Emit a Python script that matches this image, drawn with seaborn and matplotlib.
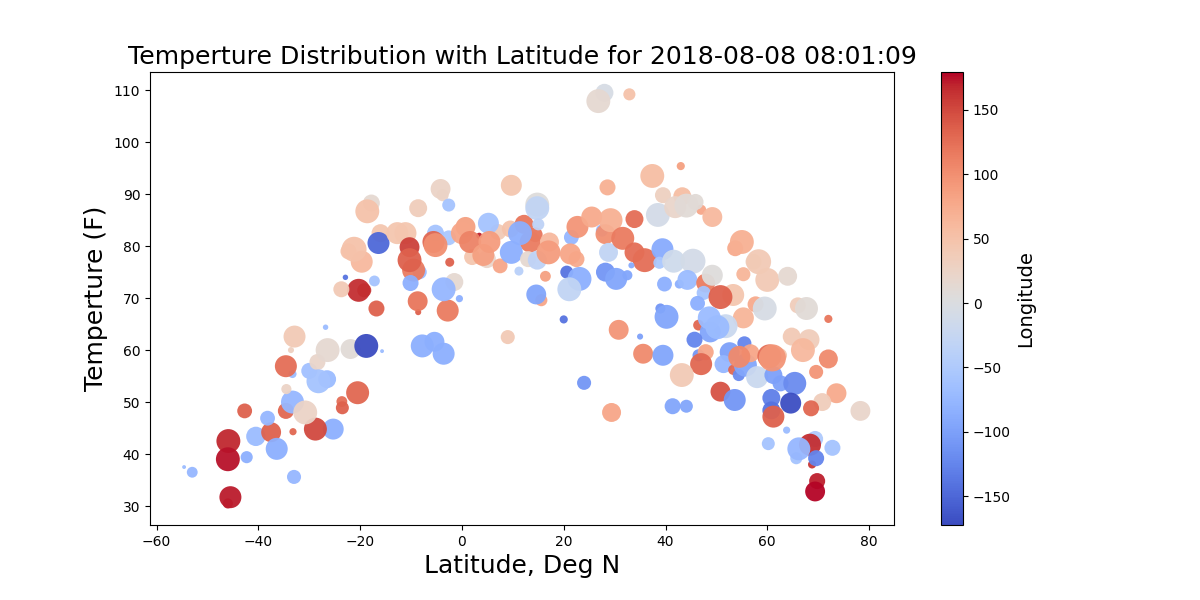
import matplotlib
matplotlib.use("Agg")
import matplotlib.pyplot as plt
import pandas as pd
import seaborn as sns

# values, in drawing order
lat = [-54.6, -53, -33, -46, -45.5, -45.9, -46, -42.3, -40.5, -37.5,
       -36.4, -42.7, -38.2, -33.2, -34.6, -33.3, -25.3, -28.8, -30.8, -34.5,
       -23.6, -23.5, -20.5, -30, -28.4, -26.5, -28.2, -33.3, -34.6, -32.9,
       -33.6, -26.8, -26.4, -21.9, -18.8, -15.7, -7.8, -5.4, -3.6, -19.2,
       -20.3, -23.7, -22.9, -17.2, -16.8, -19.7, -22.3, -21.2, -16, -16.4,
       -17.8, -18.6, -12.7, -11.1, -8.6, -3.8, -4.2, -2.6, -10.3, -8.3,
       -9.5, -10.3, -10.1, -2.4, -8.6, -8.7, -2.8, -1.5, -3.6, -0.5,
       -5.2, -2.6, -5.6, -5.2, 0.7, 0, 2, 3.4, 1.6, 4.9,
       4.2, 7.1, 5.2, 5.4, 7.5, 9.5, 9.7, 12.2, 14.4, 13.4,
       9.7, 11.4, 11.2, 13, 14.8, 14.8, 14.8, 15, 17.2, 17,
       16.4, 15.6, 14.6, 20.6, 21.5, 23.1, 21.1, 22.5, 21.3, 22.7,
       25.5, 28.6, 28, 26.8, 32.9, 27.5, 28.2, 29.2, 28.8, 33.9,
       31.6, 33.9, 35.9, 28.2, 32.5, 33.3, 30.3, 37.4, 43, 43.3,
       39.5, 47, 38.5, 41.9, 45.9, 44.1, 49.2, 39.4, 38.8, 41.6,
       45.4, 39.8, 42.7, 44.3, 47.9, 49.2, 39, 40.2, 47.5, 46.3,
       53.3, 50.8, 53.7, 55, 57.3, 58.3, 55.3, 60, 64, 57.7,
       55.3, 59.5, 66, 67.7, 72, 46.5, 51.8, 48.8, 48.6, 50.2,
       45.7, 64.8, 68.2, 67, 46.5, 47.9, 47, 52.6, 51.4, 53.3,
       55.5, 54.4, 55.7, 56.7, 54.5, 58, 61.2, 62.6, 65.4, 62.5,
       60.4, 61, 69.6, 72, 73.6, 70.8, 68.6, 78.3, 64.6, 60.8,
       60.8, 61.2, 50.8, 53.6, 63.8, 60.2, 69.4, 68.4, 72.8, 65.7,
       66.2, 68.8, 69.6, 69.8, 69.4, 9, 24, 29.4, 30.8, 35,
       35.6, 39.5, 43.2, 41.4, 44.1, 20]

temp = [37.5, 36.5, 35.6, 30.5, 31.7, 42.5, 39, 39.4, 43.4, 44.2,
        41, 48.3, 46.9, 44.3, 48.3, 50, 44.8, 44.8, 48, 52.5,
        50.1, 48.9, 51.8, 56, 57.7, 54.4, 54, 55.4, 56.9, 62.6,
        60, 64.4, 60, 60.2, 60.8, 59.8, 60.8, 61.6, 59.3, 71.5,
        71.5, 71.7, 74, 73.3, 68, 77, 79, 79.4, 82.5, 80.6,
        88.3, 86.7, 82.5, 82.5, 87.3, 89.8, 91, 87.9, 79.8, 75,
        75.4, 77.3, 72.9, 76.9, 67.3, 69.4, 67.6, 73.1, 71.7, 69.9,
        82.5, 81.6, 80.8, 80.2, 83.7, 82.5, 77.9, 82, 80.8, 77.5,
        78.3, 82.7, 84.4, 80.8, 76.2, 83.3, 91.7, 84.2, 82.2, 80.8,
        78.8, 82.5, 75.2, 77.5, 77.3, 88, 87.3, 84.2, 80.8, 78.8,
        74.2, 69.6, 70.7, 75, 81.7, 73.7, 71.7, 77.5, 78.5, 83.7,
        85.6, 91.3, 109.5, 107.9, 109.2, 83, 82.3, 85, 78.8, 85.2,
        81.5, 78.8, 77.3, 75, 74.4, 76.3, 73.7, 93.5, 95.4, 89.6,
        89.8, 87, 86, 87.5, 88.5, 87.8, 85.6, 79.4, 76.8, 77.1,
        77.1, 72.7, 72.7, 73.5, 72.9, 74.4, 68, 66.4, 71, 69,
        70.6, 70.2, 79.6, 80.8, 77, 77, 74.6, 73.5, 74.2, 68.8,
        66.2, 68, 68.6, 68, 66, 64.8, 64.6, 63.5, 66.2, 64.4,
        62, 62.6, 62, 60, 59, 59.6, 57.3, 59.6, 57.3, 56.2,
        61.3, 55.2, 57.1, 59.4, 58.7, 54.8, 55.2, 53.6, 53.6, 59,
        58.8, 58.5, 55.8, 58.3, 51.7, 50, 48.8, 48.3, 49.8, 50.8,
        48.4, 47.2, 52, 50.4, 44.6, 42, 42.9, 41.8, 41.2, 39.2,
        41, 38, 39.2, 34.8, 32.8, 62.5, 53.7, 48, 63.9, 62.6,
        59.3, 59, 55.2, 49.2, 49.2, 65.9]

lon = [-70, -75, -75, 172, 172, 168, 175, -85, -70, 135,
       -85, 135, -75, 130, 130, -75, -85, 150, 25, 25,
       125, 135, 130, -65, 20, -70, -60, -70, 125, 40,
       30, -70, 15, 10, -172.5, -70, -85, -85, -85, 160,
       165, 40, -140, -60, 135, 60, 50, 50, 45, -150,
       15, 50, 45, 45, 35, 25, 25, -60, 155, -70,
       115, 135, -85, 135, 135, 120, 115, 15, -75, -85,
       -60, -55, 130, 100, 85, 80, 45, 170, 110, 20,
       85, 40, -60, 90, 80, 50, 45, 120, 120, 115,
       -85, -85, -40, 15, -35, 5, -30, -35, 60, 90,
       85, 80, -95, -140, -75, -85, -30, 75, 80, 95,
       75, 70, -5, 15, 50, -75, 100, 70, -30, 125,
       115, 125, 125, -110, -95, -90, -95, 55, 85, 55,
       30, 80, -10, 20, 10, 10, 60, -90, -55, -15,
       -10, -85, -85, -70, 115, 5, -110, -95, -60, -85,
       45, 135, 75, 70, 30, 40, 65, 40, 15, 75,
       65, -5, 35, 10, 120, 130, -20, -95, -70, -70,
       -125, 40, 35, 60, -110, 80, 130, -100, -75, 130,
       -125, -120, -95, 80, 105, -20, -100, -100, -120, 45,
       125, 95, 95, 105, 75, 35, 130, 20, -170, -130,
       -140, 135, 145, -110, -70, -60, -50, 165, -60, -60,
       -75, 160, -125, 170, 179.5, 40, -110, 80, 95, -100,
       105, -95, 40, -95, -95, -140]

humidity = [2, 16, 27, 14, 66, 78, 78, 20, 51, 54,
            66, 30, 30, 7, 35, 72, 60, 72, 78, 14,
            16, 23, 72, 35, 35, 44, 78, 9, 66, 66,
            5, 4, 78, 54, 78, 2, 72, 54, 66, 27,
            72, 35, 4, 16, 35, 66, 35, 85, 44, 66,
            39, 78, 66, 66, 44, 20, 54, 23, 54, 27,
            72, 78, 35, 11, 5, 54, 66, 44, 78, 7,
            39, 30, 66, 78, 54, 66, 35, 5, 66, 44,
            66, 35, 60, 66, 30, 39, 60, 49, 30, 60,
            72, 78, 11, 35, 49, 78, 78, 20, 49, 78,
            16, 20, 54, 23, 30, 78, 78, 35, 60, 66,
            60, 35, 44, 78, 20, 20, 54, 78, 49, 44,
            72, 54, 78, 49, 14, 5, 66, 78, 9, 44,
            35, 14, 78, 66, 35, 78, 54, 66, 20, 72,
            85, 30, 11, 54, 49, 60, 14, 78, 27, 30,
            66, 78, 35, 78, 35, 85, 27, 78, 49, 35,
            60, 78, 35, 72, 9, 16, 78, 60, 72, 78,
            35, 44, 60, 78, 20, 35, 66, 54, 44, 14,
            27, 20, 72, 44, 66, 66, 44, 35, 72, 27,
            78, 100, 27, 49, 54, 44, 35, 54, 60, 44,
            44, 66, 54, 66, 7, 23, 35, 66, 35, 20,
            72, 9, 35, 35, 54, 27, 27, 49, 54, 5,
            54, 60, 78, 35, 23, 9]

df = pd.DataFrame({"Lat": lat, "Temp": temp, "Lon": lon, "Humidity": humidity})
norm = plt.Normalize(df["Lon"].min(), df["Lon"].max())

fig, ax = plt.subplots(figsize=(12, 6), dpi=100)
fig.subplots_adjust(left=0.125, right=0.9, bottom=0.125, top=0.88)
sns.scatterplot(x="Lat", y="Temp", hue="Lon", size="Humidity", data=df,
                palette="coolwarm", hue_norm=norm, sizes=(4, 380), size_norm=(1, 100),
                alpha=0.95, linewidth=0, legend=False, ax=ax)

ax.set_xlim(-61.3, 84.9)
ax.set_ylim(26.35, 113.5)
ax.set_title("Temperture Distribution with Latitude for 2018-08-08 08:01:09", fontsize=18.1)
ax.set_xlabel("Latitude, Deg N", fontsize=18)
ax.set_ylabel("Temperture (F)", fontsize=18)

sm = plt.cm.ScalarMappable(cmap="coolwarm", norm=norm)
cbar = fig.colorbar(sm, ax=ax)
cbar.set_label("Longitude", fontsize=14)

fig.savefig("out.png", dpi=100)
